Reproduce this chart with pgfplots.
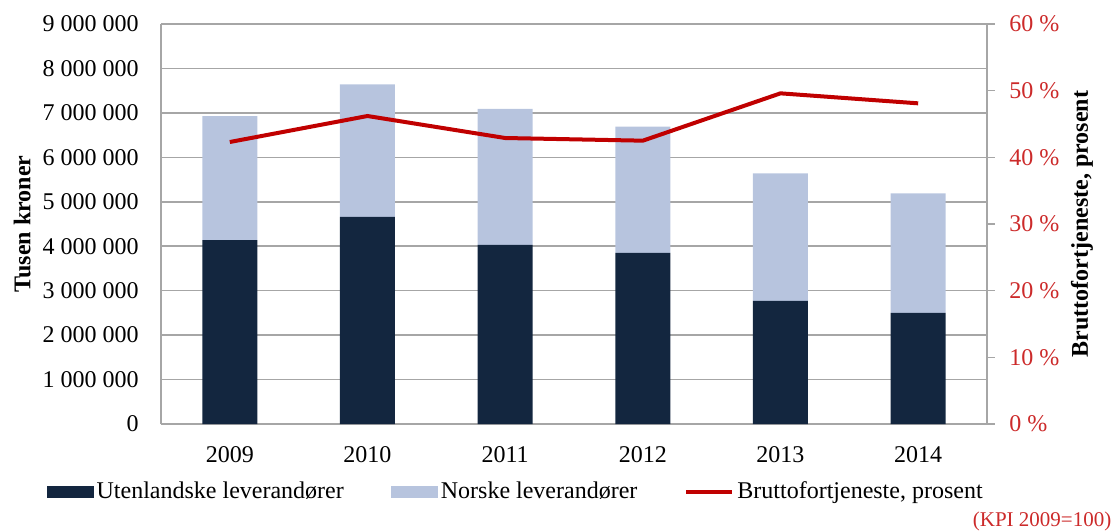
\documentclass[border=0pt]{standalone}
\usepackage{fontspec}
\setmainfont{Liberation Serif}
\usepackage{pgfplots}
\pgfplotsset{compat=1.18}

\definecolor{navy}{HTML}{13263F}
\definecolor{lightblue}{HTML}{B7C4DE}
\definecolor{linered}{HTML}{C00000}
\definecolor{labelred}{HTML}{CC2A2A}
\definecolor{gridgray}{HTML}{A6A6A6}

\pgfplotsset{
  common/.style={
    width=413pt, height=200pt, scale only axis,
    xmin=-0.5, xmax=5.5,
    font=\fontsize{12}{14}\selectfont,
    /pgf/number format/assume math mode=true,
    axis line style={gridgray, line width=0.75pt},
  },
  barleg/.style={legend image code/.code={\fill[##1] (0pt,-3pt) rectangle (23.5pt,3pt);}},
  lineleg/.style={legend image code/.code={\draw[##1] (0pt,0pt) -- (23pt,0pt);}},
}

\begin{document}
\begin{tikzpicture}
\path[use as bounding box] (-80.5pt,-53.5pt) rectangle (479pt,212pt);

% stacked bars, left axis
\begin{axis}[common,
  ybar stacked, bar width=27.5pt,
  ymin=0, ymax=9000000,
  ytick={0,1000000,2000000,3000000,4000000,5000000,6000000,7000000,8000000,9000000},
  scaled y ticks=false,
  yticklabel={\pgfmathprintnumber[fixed,precision=0,1000 sep={\ }]{\tick}},
  yticklabel style={anchor=east, inner sep=0pt, xshift=-11pt},
  xtick={0,1,2,3,4,5},
  xticklabels={2009,2010,2011,2012,2013,2014},
  xticklabel style={anchor=north, inner sep=0pt, yshift=-11pt},
  tick style={draw=none},
  axis x line*=bottom, axis y line*=left,
  ymajorgrids, major grid style={gridgray, line width=0.75pt},
  ylabel={\bfseries Tusen kroner},
  ylabel style={at={(axis description cs:-0.168,0.5)}, anchor=center},
]
\addplot[fill=navy, draw=none] coordinates {(0,4140000)(1,4660000)(2,4030000)(3,3850000)(4,2770000)(5,2500000)};
\addplot[fill=lightblue, draw=none] coordinates {(0,2790000)(1,2980000)(2,3060000)(3,2840000)(4,2870000)(5,2690000)};
\end{axis}

% percentage line, right axis
\begin{axis}[common,
  clip=false,
  ymin=0, ymax=60,
  ytick={0,10,20,30,40,50,60},
  yticklabel={\pgfmathprintnumber{\tick} \%},
  yticklabel style={anchor=west, inner sep=0pt, xshift=7pt, text=labelred},
  hide x axis,
  axis y line*=right,
  ytick style={gridgray, line width=0.75pt},
  major tick length=4pt, tick align=outside,
  ylabel={\bfseries Bruttofortjeneste, prosent},
  ylabel style={at={(axis description cs:1.115,0.5)}, anchor=center},
  legend style={at={(axis description cs:0.43,-0.17)}, anchor=center,
    draw=none, fill=none, legend columns=3,
    font=\fontsize{12}{14}\selectfont,
    nodes={inner sep=1.5pt},
    /tikz/every even column/.append style={column sep=22pt}},
]
\addlegendimage{barleg, fill=navy, draw=none}
\addlegendentry{Utenlandske leverandører}
\addlegendimage{barleg, fill=lightblue, draw=none}
\addlegendentry{Norske leverandører}
\addplot[color=linered, line width=2pt, lineleg]
  coordinates {(0,42.3)(1,46.2)(2,42.9)(3,42.5)(4,49.6)(5,48.1)};
\addlegendentry{Bruttofortjeneste, prosent}
\node[anchor=east, inner sep=0pt, text=labelred, font=\fontsize{10.5}{12}\selectfont]
  at (rel axis cs:1.151,-0.2425) {(KPI 2009=100)};
\end{axis}
\end{tikzpicture}
\end{document}
